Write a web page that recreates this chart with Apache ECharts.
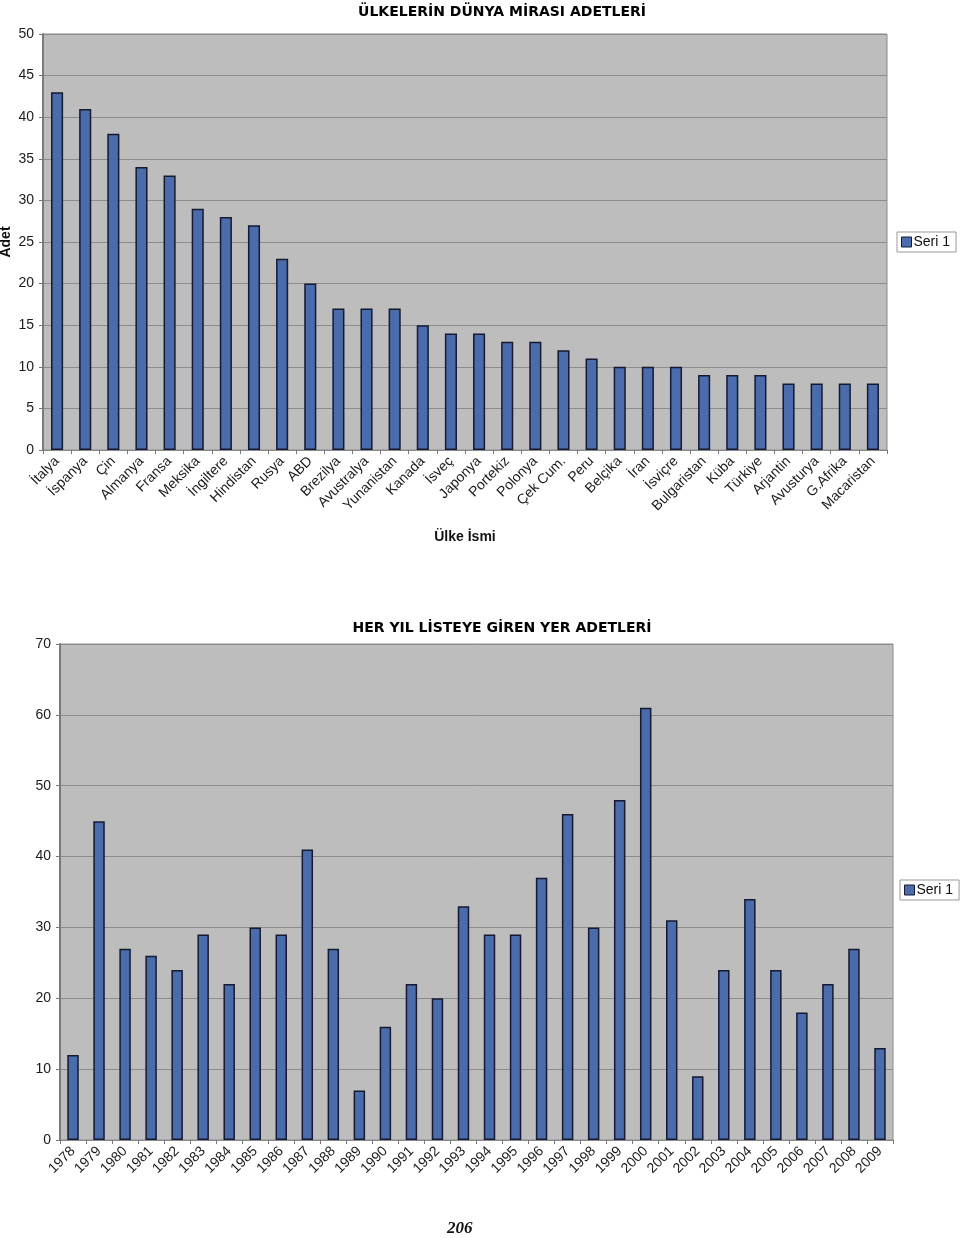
<!DOCTYPE html>
<html>
<head>
<meta charset="utf-8">
<script src="https://cdn.jsdelivr.net/npm/echarts@6/dist/echarts.min.js"></script>
<style>
html,body{margin:0;padding:0;background:#fff;}
#c{width:960px;height:1238px;}
</style>
</head>
<body>
<div id="c"></div>
<script>
// Chart 1 data
const countries = ['İtalya','İspanya','Çin','Almanya','Fransa','Meksika','İngiltere','Hindistan','Rusya','ABD','Brezilya','Avustralya','Yunanistan','Kanada','İsveç','Japonya','Portekiz','Polonya','Çek Cum.','Peru','Belçika','İran','İsviçre','Bulgaristan','Küba','Türkiye','Arjantin','Avusturya','G.Afrika','Macaristan'];
const heritageCounts = [43,41,38,34,33,29,28,27,23,20,17,17,17,15,14,14,13,13,12,11,10,10,10,9,9,9,8,8,8,8];
// Chart 2 data
const years = ['1978','1979','1980','1981','1982','1983','1984','1985','1986','1987','1988','1989','1990','1991','1992','1993','1994','1995','1996','1997','1998','1999','2000','2001','2002','2003','2004','2005','2006','2007','2008','2009'];
const yearlyCounts = [12,45,27,26,24,29,22,30,29,41,27,7,16,22,20,33,29,29,37,46,30,48,61,31,9,24,34,24,18,22,27,13];
const seriesName = 'Seri 1';
const title1 = 'ÜLKELERİN DÜNYA MİRASI ADETLERİ';
const title2 = 'HER YIL LİSTEYE GİREN YER ADETLERİ';

const FONT = 'Liberation Sans, Arial, sans-serif';
const barColor = '#4b6cac';
const barBorder = '#141a30';
const gridLine = '#8c8c8c';

function xAxis(gridIndex, data, name, nameGap) {
  return {
    type: 'category', gridIndex, data,
    name, nameLocation: 'middle', nameGap, nameMoveOverlap: false,
    nameTextStyle: {fontFamily: FONT, fontSize: 14, fontWeight: 'bold', color: '#111'},
    axisLine: {show: true, lineStyle: {color: '#8a8a8a', width: 1}},
    axisTick: {show: true, alignWithLabel: false, length: 4, lineStyle: {color: '#777'}},
    axisLabel: {rotate: 45, interval: 0, fontFamily: FONT, fontSize: 14, color: '#1a1a1a', margin: 9},
    splitLine: {show: false}
  };
}
function yAxis(gridIndex, max, interval, name, nameGap) {
  return {
    type: 'value', gridIndex, min: 0, max, interval,
    name, nameLocation: 'middle', nameGap, nameRotate: 90, nameMoveOverlap: false,
    nameTextStyle: {fontFamily: FONT, fontSize: 14, fontWeight: 'bold', color: '#111'},
    axisLine: {show: true, lineStyle: {color: '#7a7a7a', width: 2}},
    axisTick: {show: true, length: 4, lineStyle: {color: '#777'}},
    axisLabel: {fontFamily: FONT, fontSize: 14, color: '#1a1a1a', margin: 9},
    splitLine: {show: true, lineStyle: {color: gridLine, width: 1}}
  };
}

const chart = echarts.init(document.getElementById('c'), null, {renderer: 'canvas'});
chart.setOption({
  backgroundColor: '#ffffff',
  animation: false,
  title: [
    {text: title1, left: 497, top: 0, textAlign: 'center',
     textStyle: {fontFamily: 'DejaVu Sans, sans-serif', fontSize: 14, fontWeight: 'bold', color: '#000'}},
    {text: title2, left: 497, top: 616, textAlign: 'center',
     textStyle: {fontFamily: 'DejaVu Sans, sans-serif', fontSize: 14, fontWeight: 'bold', color: '#000'}}
  ],
  legend: [
    {data: [seriesName], left: 897, top: 232, orient: 'vertical',
     backgroundColor: '#fff', borderColor: '#999', borderWidth: 1, padding: [3, 6, 3, 4],
     icon: 'rect', itemWidth: 10, itemHeight: 10, itemGap: 4,
     textStyle: {fontFamily: FONT, fontSize: 14, color: '#111', padding: [0, 0, 0, -3]},
     itemStyle: {borderColor: barBorder, borderWidth: 1}},
    {data: [seriesName], left: 900, top: 880, orient: 'vertical',
     backgroundColor: '#fff', borderColor: '#999', borderWidth: 1, padding: [3, 6, 3, 4],
     icon: 'rect', itemWidth: 10, itemHeight: 10, itemGap: 4,
     textStyle: {fontFamily: FONT, fontSize: 14, color: '#111', padding: [0, 0, 0, -3]},
     itemStyle: {borderColor: barBorder, borderWidth: 1}}
  ],
  grid: [
    {left: 43, top: 34, width: 844, height: 416, show: true, backgroundColor: '#bdbdbd', borderColor: '#8a8a8a', borderWidth: 1,
     containLabel: false, outerBoundsMode: 'none'},
    {left: 60, top: 644, width: 833, height: 496, show: true, backgroundColor: '#bdbdbd', borderColor: '#8a8a8a', borderWidth: 1,
     containLabel: false, outerBoundsMode: 'none'}
  ],
  xAxis: [
    xAxis(0, countries, 'Ülke İsmi', 80),
    xAxis(1, years, '', 40)
  ],
  yAxis: [
    yAxis(0, 50, 5, 'Adet', 30),
    yAxis(1, 70, 10, '', 40)
  ],
  series: [
    {name: seriesName, type: 'bar', xAxisIndex: 0, yAxisIndex: 0, data: heritageCounts,
     barWidth: '43%', itemStyle: {color: barColor, borderColor: barBorder, borderWidth: 1.5}},
    {name: seriesName, type: 'bar', xAxisIndex: 1, yAxisIndex: 1, data: yearlyCounts,
     barWidth: '44%', itemStyle: {color: barColor, borderColor: barBorder, borderWidth: 1.5}}
  ],
  graphic: [
    {type: 'text', left: 447, top: 1220,
     style: {text: '206', font: 'italic bold 17px "Liberation Serif", "DejaVu Serif", serif', fill: '#111'}}
  ]
});
</script>
</body>
</html>
